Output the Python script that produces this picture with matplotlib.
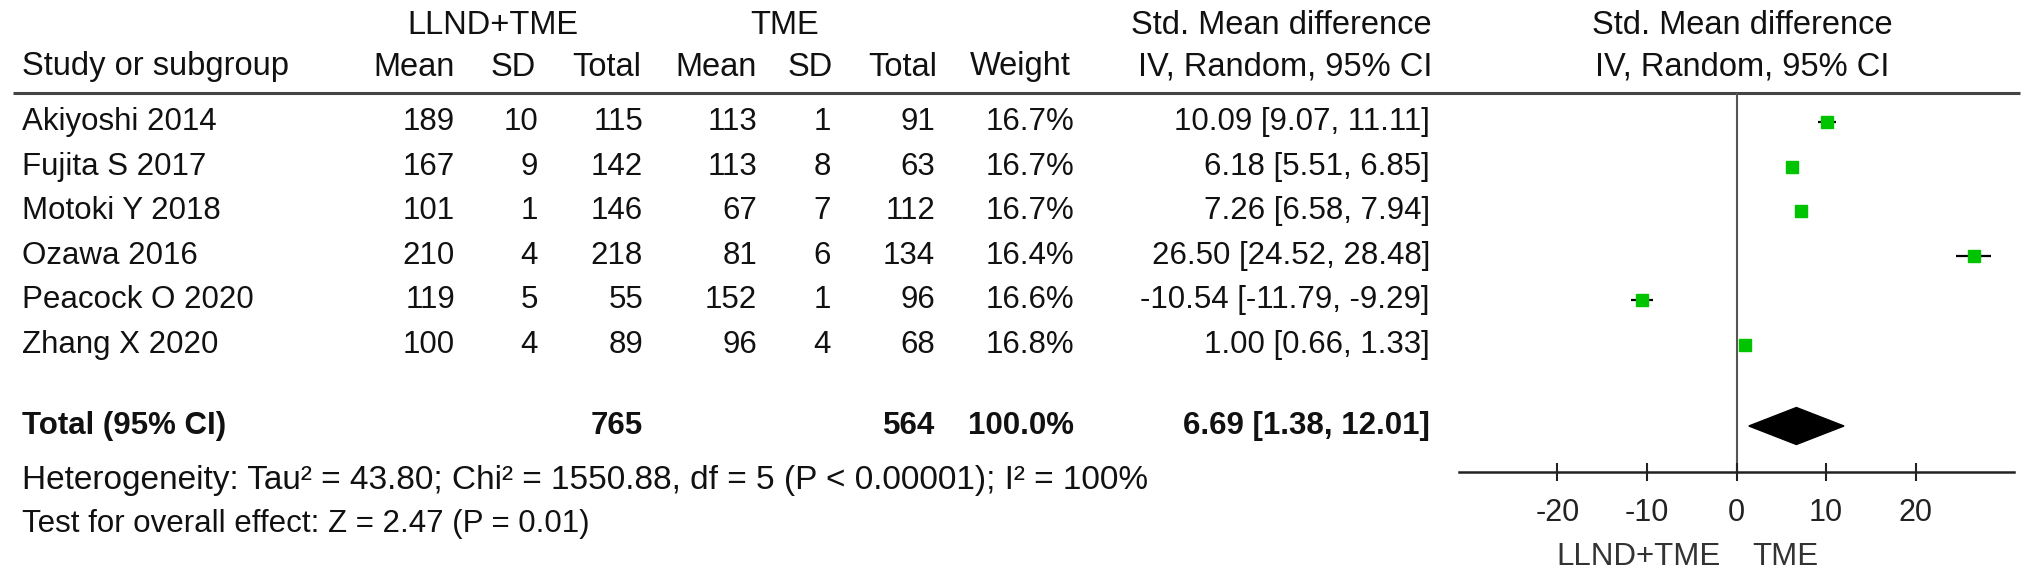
import numpy as np
import matplotlib
matplotlib.use("Agg")
import matplotlib.pyplot as plt
import matplotlib.transforms as mtransforms

plt.rcParams['font.family'] = ['Liberation Sans', 'DejaVu Sans']

# dados do forest plot
estudos = ["Akiyoshi 2014", "Fujita S 2017", "Motoki Y 2018", "Ozawa 2016",
           "Peacock O 2020", "Zhang X 2020"]
exp_media = [189, 167, 101, 210, 119, 100]
exp_dp = [10, 9, 1, 4, 5, 4]
exp_n = [115, 142, 146, 218, 55, 89]
ctl_media = [113, 113, 67, 81, 152, 96]
ctl_dp = [1, 8, 7, 6, 1, 4]
ctl_n = [91, 63, 112, 134, 96, 68]
peso = [16.7, 16.7, 16.7, 16.4, 16.6, 16.8]
smd = [10.09, 6.18, 7.26, 26.50, -10.54, 1.00]
ic_inf = [9.07, 5.51, 6.58, 24.52, -11.79, 0.66]
ic_sup = [11.11, 6.85, 7.94, 28.48, -9.29, 1.33]

total_exp = 765
total_ctl = 564
total_peso = 100.0
total_smd = 6.69
total_inf = 1.38
total_sup = 12.01

ticks = [-20, -10, 0, 10, 20]
het_txt = "Heterogeneity: Tau\u00b2 = 43.80; Chi\u00b2 = 1550.88, df = 5 (P < 0.00001); I\u00b2 = 100%"
teste_txt = "Test for overall effect: Z = 2.47 (P = 0.01)"

W, H = 2032, 578
fig = plt.figure(figsize=(W / 100, H / 100), dpi=100)

# eixo da tabela (coordenadas em pixels)
tab = fig.add_axes([0, 0, 1, 1])
tab.set_xlim(0, W)
tab.set_ylim(H, 0)
tab.axis('off')

# eixo do forest plot
x0, x1 = 1459, 2014
y_top, y_bot = 93, 472
axf = fig.add_axes([x0 / W, (H - y_bot) / H, (x1 - x0) / W, (y_bot - y_top) / H])
axf.patch.set_alpha(0)
axf.set_xlim(-31, 31)
passo = 44.6
axf.set_ylim((y_bot - 122) / passo, (y_top - 122) / passo)

linhas = np.arange(len(estudos))
linha_total = (426 - 122) / passo

# CI + quadrados
axf.hlines(linhas, ic_inf, ic_sup, color='black', lw=1.6, zorder=2)
axf.plot(smd, linhas, 's', color='#00c400', markersize=9, zorder=3)

# diamante
h = 18.5 / passo
axf.fill([total_inf, total_smd, total_sup, total_smd],
         [linha_total, linha_total - h, linha_total, linha_total + h],
         color='black', zorder=3)

axf.axvline(0, color='#555555', lw=1.5, zorder=1)

for s in ['top', 'left', 'right']:
    axf.spines[s].set_visible(False)
axf.spines['bottom'].set_color('#222222')
axf.spines['bottom'].set_linewidth(1.8)
axf.set_yticks([])
axf.set_xticks(ticks)
axf.set_xticklabels([str(t) for t in ticks])
axf.tick_params(axis='x', direction='inout', length=13, width=1.5, color='#222222',
                labelsize=22, pad=12, labelcolor='#222222')

# transformacao: x em pixels, y em linhas do forest
trans = mtransforms.blended_transform_factory(tab.transData, axf.transData)

fs = 22.5
fh = 23.5
cor = '#111111'

# cabecalhos
tab.text(493, 25, "LLND+TME", ha='center', va='center', fontsize=fh, color=cor)
tab.text(785, 25, "TME", ha='center', va='center', fontsize=fh, color=cor)
tab.text(1432, 25, "Std. Mean difference", ha='right', va='center', fontsize=fh, color=cor)
tab.text(1432, 67, "IV, Random, 95% CI", ha='right', va='center', fontsize=fh, color=cor)
tab.text(1742, 25, "Std. Mean difference", ha='center', va='center', fontsize=fh, color=cor)
tab.text(1742, 67, "IV, Random, 95% CI", ha='center', va='center', fontsize=fh, color=cor)

cols_x = [455, 536, 641, 757, 833, 937, 1071]
cols_nome = ["Mean", "SD", "Total", "Mean", "SD", "Total", "Weight"]
tab.text(22, 67, "Study or subgroup", ha='left', va='center', fontsize=fh, color=cor)
for cx, nome in zip(cols_x, cols_nome):
    tab.text(cx, 67, nome, ha='right', va='center', fontsize=fh, color=cor)

tab.hlines(y_top, 13, 2020, color='#444444', lw=2.2)

# linhas dos estudos
vals_x = [455, 538, 643, 757, 831, 935, 1074]
for i in range(len(estudos)):
    tab.text(22, i, estudos[i], transform=trans, ha='left', va='center', fontsize=fs, color=cor)
    valores = [exp_media[i], exp_dp[i], exp_n[i], ctl_media[i], ctl_dp[i], ctl_n[i],
               f"{peso[i]:.1f}%"]
    for vx, v in zip(vals_x, valores):
        tab.text(vx, i, str(v), transform=trans, ha='right', va='center', fontsize=fs, color=cor)
    tab.text(1430, i, f"{smd[i]:.2f} [{ic_inf[i]:.2f}, {ic_sup[i]:.2f}]", transform=trans,
             ha='right', va='center', fontsize=fs, color=cor)

# linha total
tab.text(22, linha_total, "Total (95% CI)", transform=trans, ha='left', va='center',
         fontsize=fs, fontweight='bold', color=cor)
tab.text(643, linha_total, str(total_exp), transform=trans, ha='right', va='center',
         fontsize=fs, fontweight='bold', color=cor)
tab.text(935, linha_total, str(total_ctl), transform=trans, ha='right', va='center',
         fontsize=fs, fontweight='bold', color=cor)
tab.text(1074, linha_total, f"{total_peso:.1f}%", transform=trans, ha='right', va='center',
         fontsize=fs, fontweight='bold', color=cor)
tab.text(1430, linha_total, f"{total_smd:.2f} [{total_inf:.2f}, {total_sup:.2f}]",
         transform=trans, ha='right', va='center', fontsize=fs, fontweight='bold', color=cor)

tab.text(22, 481, het_txt, ha='left', va='center', fontsize=24, color=cor)
tab.text(22, 524, teste_txt, ha='left', va='center', fontsize=fs, color=cor)

# rotulos abaixo do eixo
tab.text(1721, 557, "LLND+TME", ha='right', va='center', fontsize=fs, color='#333333')
tab.text(1752, 557, "TME", ha='left', va='center', fontsize=fs, color='#333333')

fig.savefig("out.png", dpi=100)
